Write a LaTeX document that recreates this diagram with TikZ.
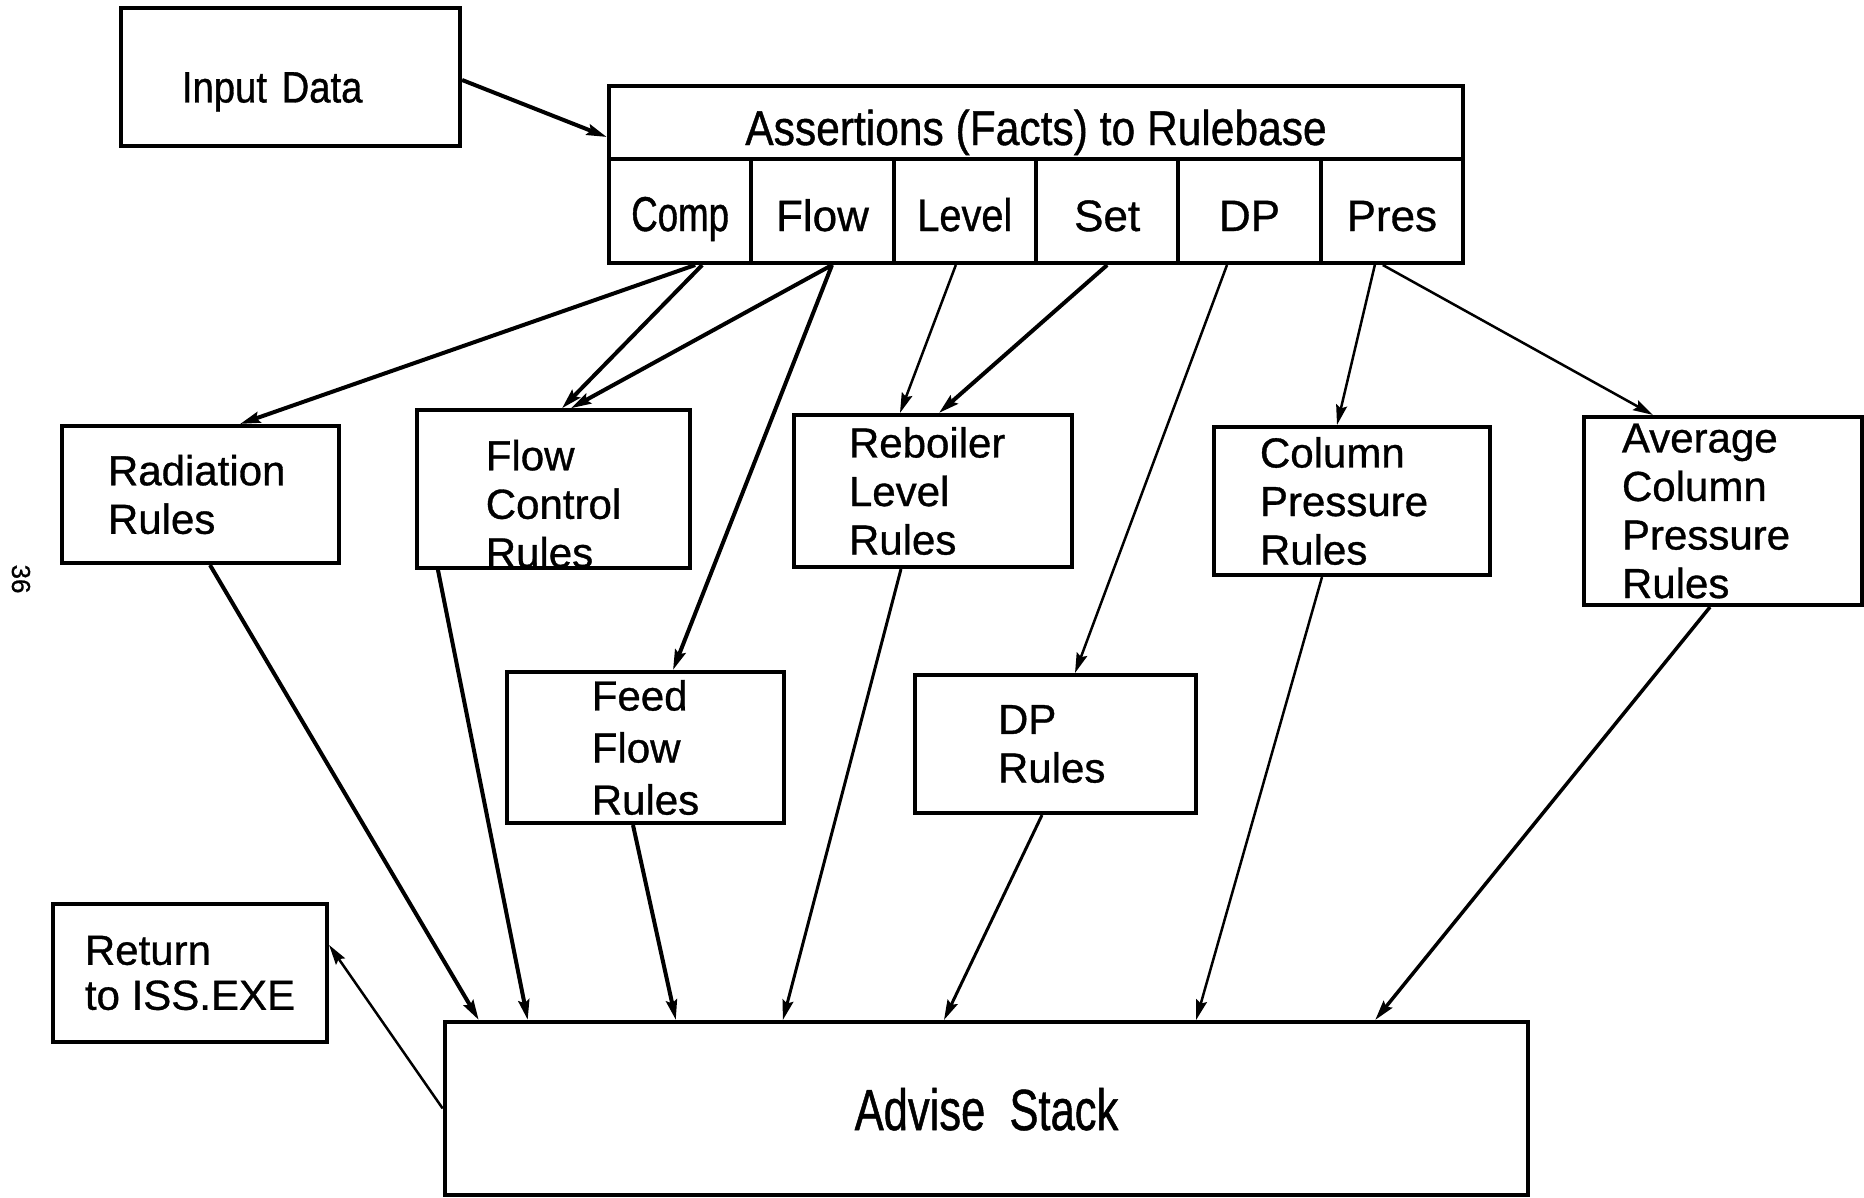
\documentclass[tikz,border=0pt]{standalone}
\usepackage{fontspec}
\setmainfont{Liberation Sans}[FakeBold=0.8]
\newfontfamily\narrowfont[FakeStretch=0.87,FakeBold=0.8]{Liberation Sans}
\newfontfamily\condfont[FakeStretch=0.75,FakeBold=0.8]{Liberation Sans}
\usetikzlibrary{arrows.meta,positioning}

\begin{document}
\begin{tikzpicture}[x=0.01cm, y=-0.01cm]

\useasboundingbox (0,0) rectangle (1864,1197);

%% setup styles for the rulebase chart

\tikzstyle{box}=[draw, line width=0.04cm, inner sep=0pt, align=left, font=\fontsize{11.95}{13.8}\selectfont]
\tikzstyle{cell}=[draw, line width=0.04cm, inner sep=0pt, minimum width=1.4233cm, minimum height=1.04cm, text height=0.4cm, text depth=0cm, font=\fontsize{12.5}{14}\selectfont]
\tikzstyle{link}=[line width=0.025cm, -{Stealth[length=0.2cm,width=0.11cm,inset=0.03cm]}]
\tikzstyle{thick link}=[link, line width=0.04cm]

%% cell grid
\def\xcells{609}
\def\cellsep{142.33}

% input and assertions
\node[box, minimum width=3.39cm, minimum height=1.38cm, text width=2.17cm, text height=0.6cm, font=\narrowfont\fontsize{12.5}{14}\selectfont] (input) at (290.5,77) {Input Data};

\node[box, minimum width=8.54cm, minimum height=0.73cm, text height=0.45cm, text depth=0cm, font=\narrowfont\fontsize{13.9}{16}\selectfont] (assert) at (1036,122.5) {Assertions (Facts) to Rulebase};

\foreach \name/\txt [count=\i] in {comp/{\condfont\fontsize{13.9}{15}\selectfont Comp}, flow/Flow, level/{\narrowfont\fontsize{13}{15}\selectfont Level}, set/Set, dp/DP, pres/Pres}
  \node[cell] (\name) at (\xcells+\cellsep*\i-0.5*\cellsep,211) {\txt};

% rule boxes
\node[box, minimum width=2.77cm, minimum height=1.37cm, text width=1.85cm] (rad) at (200.5,494.5) {Radiation\\Rules};
\node[box, minimum width=2.73cm, minimum height=1.48cm] (fcr) at (553.5,489) {\rule{0pt}{0.6cm}Flow\\Control\\Rules};
\node[box, minimum width=2.78cm, minimum height=1.52cm, text width=1.68cm] (reb) at (933,491) {Reboiler\\Level\\Rules};
\node[box, minimum width=2.76cm, minimum height=1.48cm, text width=1.84cm] (col) at (1352,501) {Column\\Pressure\\Rules};
\node[box, minimum width=2.78cm, minimum height=1.88cm, text width=2.02cm] (avg) at (1723,511) {Average\\Column\\Pressure\\Rules};
\node[box, minimum width=2.77cm, minimum height=1.51cm, font=\fontsize{11.95}{14.8}\selectfont] (feed) at (645.5,747.5) {Feed\\Flow\\Rules};
\node[box, minimum width=2.81cm, minimum height=1.38cm, text width=1.15cm] (dpr) at (1055.5,744) {DP\\Rules};

% return and advise stack
\node[box, minimum width=2.74cm, minimum height=1.38cm, font=\fontsize{11.95}{12.8}\selectfont] (ret) at (190,973) {Return\\to ISS.EXE};
\node[box, minimum width=10.83cm, minimum height=1.73cm, text height=0.43cm, text depth=0cm, font=\condfont\fontsize{16.5}{18}\selectfont] (adv) at (986.5,1108.5) {Advise~~Stack};

\node[rotate=-90, font=\fontsize{7.4}{9}\selectfont] (pagenum) at (21,579) {36};

%% assertions to rules
\draw[thick link] ([yshift=-0.03cm]input.east) -- ([yshift=-0.145cm]assert.west);
\draw[thick link] ([xshift=0.15cm]comp.south) -- ([xshift=0.395cm]rad.north);
\draw[thick link] ([xshift=0.22cm]comp.south) -- ([xshift=0.085cm]fcr.north);
\draw[thick link] ([xshift=0.095cm]flow.south) -- ([xshift=0.175cm]fcr.north);
\draw[thick link] ([xshift=0.095cm]flow.south) -- ([xshift=0.275cm]feed.north);
\draw[link] ([xshift=-0.09cm]level.south) -- ([xshift=-0.33cm]reb.north);
\draw[thick link] (set.south) -- ([xshift=0.06cm]reb.north);
\draw[link] ([xshift=-0.225cm]dp.south) -- ([xshift=0.195cm]dpr.north);
\draw[link] ([xshift=-0.17cm]pres.south) -- ([xshift=-0.15cm]col.north);
\draw[link] ([xshift=-0.09cm]pres.south) -- ([xshift=-0.7cm]avg.north);

%% rules to advise stack
\foreach \source/\sx/\tx/\wd in {rad/0.095/0.36/0.04, fcr/-1.155/0.85/0.04, feed/-0.125/2.33/0.04, reb/-0.32/3.40/0.03, dpr/-0.135/5.01/0.03, col/-0.30/7.53/0.025, avg/-0.13/9.32/0.035}
  \draw[link, line width=\wd cm] ([xshift=\sx cm]\source.south) -- ([xshift=\tx cm]adv.north west);

\draw[link] (adv.west) -- ([yshift=0.28cm]ret.east);

\end{tikzpicture}
\end{document}
